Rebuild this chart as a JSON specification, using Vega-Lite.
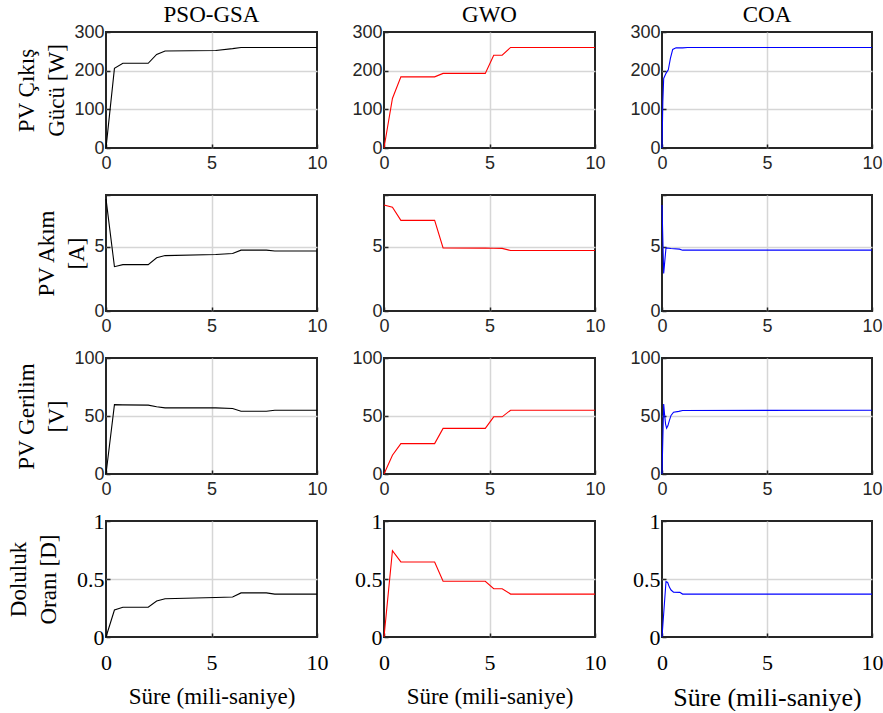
{
  "$schema": "https://vega.github.io/schema/vega-lite/v6.json",
  "background": "white",
  "padding": {"left": 6, "top": 3, "right": 0, "bottom": 0},
  "bounds": "flush",
  "spacing": {"row": 47, "column": 67},
  "columns": 3,
  "data": {"values": [
    {"a":"PSO","m":"P","t":0,"v":0},{"a":"PSO","m":"P","t":0.4,"v":206},{"a":"PSO","m":"P","t":0.8,"v":219},{"a":"PSO","m":"P","t":2.0,"v":219},{"a":"PSO","m":"P","t":2.4,"v":242},{"a":"PSO","m":"P","t":2.8,"v":251},{"a":"PSO","m":"P","t":5.2,"v":252},{"a":"PSO","m":"P","t":6.0,"v":257},{"a":"PSO","m":"P","t":6.4,"v":260},{"a":"PSO","m":"P","t":7.6,"v":260},{"a":"PSO","m":"P","t":8.0,"v":260},{"a":"PSO","m":"P","t":10,"v":260},
    {"a":"PSO","m":"I","t":0,"v":8.7},{"a":"PSO","m":"I","t":0.4,"v":3.44},{"a":"PSO","m":"I","t":0.8,"v":3.6},{"a":"PSO","m":"I","t":2.0,"v":3.6},{"a":"PSO","m":"I","t":2.4,"v":4.13},{"a":"PSO","m":"I","t":2.8,"v":4.3},{"a":"PSO","m":"I","t":5.2,"v":4.38},{"a":"PSO","m":"I","t":6.0,"v":4.46},{"a":"PSO","m":"I","t":6.4,"v":4.72},{"a":"PSO","m":"I","t":7.6,"v":4.72},{"a":"PSO","m":"I","t":8.0,"v":4.65},{"a":"PSO","m":"I","t":10,"v":4.65},
    {"a":"PSO","m":"V","t":0,"v":0},{"a":"PSO","m":"V","t":0.4,"v":59.8},{"a":"PSO","m":"V","t":0.8,"v":59.6},{"a":"PSO","m":"V","t":2.0,"v":59.4},{"a":"PSO","m":"V","t":2.4,"v":58},{"a":"PSO","m":"V","t":2.8,"v":57},{"a":"PSO","m":"V","t":5.2,"v":57},{"a":"PSO","m":"V","t":6.0,"v":56.5},{"a":"PSO","m":"V","t":6.4,"v":54.1},{"a":"PSO","m":"V","t":7.6,"v":54.1},{"a":"PSO","m":"V","t":8.0,"v":55},{"a":"PSO","m":"V","t":10,"v":55},
    {"a":"PSO","m":"D","t":0,"v":0},{"a":"PSO","m":"D","t":0.4,"v":0.233},{"a":"PSO","m":"D","t":0.8,"v":0.256},{"a":"PSO","m":"D","t":2.0,"v":0.256},{"a":"PSO","m":"D","t":2.4,"v":0.31},{"a":"PSO","m":"D","t":2.8,"v":0.33},{"a":"PSO","m":"D","t":5.2,"v":0.34},{"a":"PSO","m":"D","t":6.0,"v":0.345},{"a":"PSO","m":"D","t":6.4,"v":0.38},{"a":"PSO","m":"D","t":7.6,"v":0.38},{"a":"PSO","m":"D","t":8.0,"v":0.37},{"a":"PSO","m":"D","t":10,"v":0.37},
    {"a":"GWO","m":"P","t":0,"v":0},{"a":"GWO","m":"P","t":0.4,"v":128},{"a":"GWO","m":"P","t":0.8,"v":184},{"a":"GWO","m":"P","t":2.4,"v":184},{"a":"GWO","m":"P","t":2.8,"v":193},{"a":"GWO","m":"P","t":4.8,"v":193},{"a":"GWO","m":"P","t":5.2,"v":240},{"a":"GWO","m":"P","t":5.6,"v":240},{"a":"GWO","m":"P","t":6.0,"v":260},{"a":"GWO","m":"P","t":10,"v":260},
    {"a":"GWO","m":"I","t":0,"v":8.23},{"a":"GWO","m":"I","t":0.4,"v":8.05},{"a":"GWO","m":"I","t":0.8,"v":7.03},{"a":"GWO","m":"I","t":2.4,"v":7.03},{"a":"GWO","m":"I","t":2.8,"v":4.9},{"a":"GWO","m":"I","t":4.8,"v":4.88},{"a":"GWO","m":"I","t":5.2,"v":4.87},{"a":"GWO","m":"I","t":5.6,"v":4.86},{"a":"GWO","m":"I","t":6.0,"v":4.69},{"a":"GWO","m":"I","t":10,"v":4.69},
    {"a":"GWO","m":"V","t":0,"v":0},{"a":"GWO","m":"V","t":0.4,"v":16.2},{"a":"GWO","m":"V","t":0.8,"v":26.2},{"a":"GWO","m":"V","t":2.4,"v":26.2},{"a":"GWO","m":"V","t":2.8,"v":39.3},{"a":"GWO","m":"V","t":4.8,"v":39.3},{"a":"GWO","m":"V","t":5.2,"v":49.3},{"a":"GWO","m":"V","t":5.6,"v":49.3},{"a":"GWO","m":"V","t":6.0,"v":55},{"a":"GWO","m":"V","t":10,"v":55},
    {"a":"GWO","m":"D","t":0,"v":0},{"a":"GWO","m":"D","t":0.4,"v":0.744},{"a":"GWO","m":"D","t":0.8,"v":0.647},{"a":"GWO","m":"D","t":2.4,"v":0.647},{"a":"GWO","m":"D","t":2.8,"v":0.48},{"a":"GWO","m":"D","t":4.8,"v":0.48},{"a":"GWO","m":"D","t":5.2,"v":0.416},{"a":"GWO","m":"D","t":5.6,"v":0.416},{"a":"GWO","m":"D","t":6.0,"v":0.37},{"a":"GWO","m":"D","t":10,"v":0.37},
    {"a":"COA","m":"P","t":0,"v":0},{"a":"COA","m":"P","t":0.04,"v":120},{"a":"COA","m":"P","t":0.08,"v":180},{"a":"COA","m":"P","t":0.19,"v":193},{"a":"COA","m":"P","t":0.3,"v":202},{"a":"COA","m":"P","t":0.4,"v":232},{"a":"COA","m":"P","t":0.51,"v":255},{"a":"COA","m":"P","t":0.67,"v":259},{"a":"COA","m":"P","t":0.98,"v":259},{"a":"COA","m":"P","t":1.22,"v":260},{"a":"COA","m":"P","t":10,"v":260},
    {"a":"COA","m":"I","t":0,"v":8.23},{"a":"COA","m":"I","t":0.08,"v":2.92},{"a":"COA","m":"I","t":0.19,"v":4.9},{"a":"COA","m":"I","t":0.43,"v":4.85},{"a":"COA","m":"I","t":0.83,"v":4.8},{"a":"COA","m":"I","t":0.98,"v":4.72},{"a":"COA","m":"I","t":10,"v":4.72},
    {"a":"COA","m":"V","t":0,"v":0},{"a":"COA","m":"V","t":0.08,"v":60.4},{"a":"COA","m":"V","t":0.12,"v":52},{"a":"COA","m":"V","t":0.17,"v":43},{"a":"COA","m":"V","t":0.22,"v":39.5},{"a":"COA","m":"V","t":0.28,"v":41.5},{"a":"COA","m":"V","t":0.35,"v":46},{"a":"COA","m":"V","t":0.43,"v":50.5},{"a":"COA","m":"V","t":0.55,"v":53.3},{"a":"COA","m":"V","t":0.8,"v":54},{"a":"COA","m":"V","t":0.98,"v":54.8},{"a":"COA","m":"V","t":10,"v":55},
    {"a":"COA","m":"D","t":0,"v":0},{"a":"COA","m":"D","t":0.19,"v":0.477},{"a":"COA","m":"D","t":0.27,"v":0.47},{"a":"COA","m":"D","t":0.35,"v":0.43},{"a":"COA","m":"D","t":0.43,"v":0.405},{"a":"COA","m":"D","t":0.55,"v":0.387},{"a":"COA","m":"D","t":0.85,"v":0.385},{"a":"COA","m":"D","t":0.98,"v":0.37},{"a":"COA","m":"D","t":10,"v":0.37}
  ]},
  "concat": [
    {"width":211,"height":116,"title":"PSO-GSA","transform":[{"filter":"datum.a==='PSO' && datum.m==='P'"}],"mark":{"type":"line","color":"#000000","strokeWidth":1.1},
     "encoding":{"x":{"field":"t","type":"quantitative","scale":{"domain":[0,10]},"axis":{"values":[0,5,10],"title":null}},
                 "y":{"field":"v","type":"quantitative","scale":{"domain":[0,300]},"axis":{"values":[0,100,200,300],"title":["PV Çıkış","Gücü [W]"],"titlePadding":5}}}},
    {"width":211,"height":116,"title":"GWO","transform":[{"filter":"datum.a==='GWO' && datum.m==='P'"}],"mark":{"type":"line","color":"#ff0000","strokeWidth":1.1},
     "encoding":{"x":{"field":"t","type":"quantitative","scale":{"domain":[0,10]},"axis":{"values":[0,5,10],"title":null}},
                 "y":{"field":"v","type":"quantitative","scale":{"domain":[0,300]},"axis":{"values":[0,100,200,300],"title":null}}}},
    {"width":210,"height":116,"title":"COA","transform":[{"filter":"datum.a==='COA' && datum.m==='P'"}],"mark":{"type":"line","color":"#0000ff","strokeWidth":1.1},
     "encoding":{"x":{"field":"t","type":"quantitative","scale":{"domain":[0,10]},"axis":{"values":[0,5,10],"title":null}},
                 "y":{"field":"v","type":"quantitative","scale":{"domain":[0,300]},"axis":{"values":[0,100,200,300],"title":null}}}},

    {"width":211,"height":116,"transform":[{"filter":"datum.a==='PSO' && datum.m==='I'"}],"mark":{"type":"line","color":"#000000","strokeWidth":1.1},
     "encoding":{"x":{"field":"t","type":"quantitative","scale":{"domain":[0,10]},"axis":{"values":[0,5,10],"title":null}},
                 "y":{"field":"v","type":"quantitative","scale":{"domain":[0,9]},"axis":{"values":[0,5,9],"labelExpr":"datum.value===9?'':datum.label","title":["PV Akım","[A]"],"titlePadding":5}}}},
    {"width":211,"height":116,"transform":[{"filter":"datum.a==='GWO' && datum.m==='I'"}],"mark":{"type":"line","color":"#ff0000","strokeWidth":1.1},
     "encoding":{"x":{"field":"t","type":"quantitative","scale":{"domain":[0,10]},"axis":{"values":[0,5,10],"title":null}},
                 "y":{"field":"v","type":"quantitative","scale":{"domain":[0,9]},"axis":{"values":[0,5,9],"labelExpr":"datum.value===9?'':datum.label","title":null}}}},
    {"width":210,"height":116,"transform":[{"filter":"datum.a==='COA' && datum.m==='I'"}],"mark":{"type":"line","color":"#0000ff","strokeWidth":1.1},
     "encoding":{"x":{"field":"t","type":"quantitative","scale":{"domain":[0,10]},"axis":{"values":[0,5,10],"title":null}},
                 "y":{"field":"v","type":"quantitative","scale":{"domain":[0,9]},"axis":{"values":[0,5,9],"labelExpr":"datum.value===9?'':datum.label","title":null}}}},

    {"width":211,"height":116,"transform":[{"filter":"datum.a==='PSO' && datum.m==='V'"}],"mark":{"type":"line","color":"#000000","strokeWidth":1.1},
     "encoding":{"x":{"field":"t","type":"quantitative","scale":{"domain":[0,10]},"axis":{"values":[0,5,10],"title":null}},
                 "y":{"field":"v","type":"quantitative","scale":{"domain":[0,100]},"axis":{"values":[0,50,100],"title":["PV Gerilim","[V]"],"titlePadding":5}}}},
    {"width":211,"height":116,"transform":[{"filter":"datum.a==='GWO' && datum.m==='V'"}],"mark":{"type":"line","color":"#ff0000","strokeWidth":1.1},
     "encoding":{"x":{"field":"t","type":"quantitative","scale":{"domain":[0,10]},"axis":{"values":[0,5,10],"title":null}},
                 "y":{"field":"v","type":"quantitative","scale":{"domain":[0,100]},"axis":{"values":[0,50,100],"title":null}}}},
    {"width":210,"height":116,"transform":[{"filter":"datum.a==='COA' && datum.m==='V'"}],"mark":{"type":"line","color":"#0000ff","strokeWidth":1.1},
     "encoding":{"x":{"field":"t","type":"quantitative","scale":{"domain":[0,10]},"axis":{"values":[0,5,10],"title":null}},
                 "y":{"field":"v","type":"quantitative","scale":{"domain":[0,100]},"axis":{"values":[0,50,100],"title":null}}}},

    {"width":211,"height":116,"transform":[{"filter":"datum.a==='PSO' && datum.m==='D'"}],"mark":{"type":"line","color":"#000000","strokeWidth":1.1},
     "encoding":{"x":{"field":"t","type":"quantitative","scale":{"domain":[0,10]},"axis":{"values":[0,5,10],"title":"Süre (mili-saniye)","labelFont":"Liberation Serif","labelFontSize":22,"labelColor":"#000000","labelPadding":19,"titlePadding":12}},
                 "y":{"field":"v","type":"quantitative","scale":{"domain":[0,1]},"axis":{"values":[0,0.5,1],"format":"~g","title":["Doluluk","Oranı [D]"],"titlePadding":16,"labelFont":"Liberation Serif","labelFontSize":22,"labelColor":"#000000"}}}},
    {"width":211,"height":116,"transform":[{"filter":"datum.a==='GWO' && datum.m==='D'"}],"mark":{"type":"line","color":"#ff0000","strokeWidth":1.1},
     "encoding":{"x":{"field":"t","type":"quantitative","scale":{"domain":[0,10]},"axis":{"values":[0,5,10],"title":"Süre (mili-saniye)","labelFont":"Liberation Serif","labelFontSize":22,"labelColor":"#000000","labelPadding":19,"titlePadding":12}},
                 "y":{"field":"v","type":"quantitative","scale":{"domain":[0,1]},"axis":{"values":[0,0.5,1],"format":"~g","title":null,"labelFont":"Liberation Serif","labelFontSize":22,"labelColor":"#000000"}}}},
    {"width":210,"height":116,"transform":[{"filter":"datum.a==='COA' && datum.m==='D'"}],"mark":{"type":"line","color":"#0000ff","strokeWidth":1.1},
     "encoding":{"x":{"field":"t","type":"quantitative","scale":{"domain":[0,10]},"axis":{"values":[0,5,10],"title":"Süre (mili-saniye)","titleFontSize":26,"labelFont":"Liberation Serif","labelFontSize":22,"labelColor":"#000000","labelPadding":19,"titlePadding":11}},
                 "y":{"field":"v","type":"quantitative","scale":{"domain":[0,1]},"axis":{"values":[0,0.5,1],"format":"~g","title":null,"labelFont":"Liberation Serif","labelFontSize":22,"labelColor":"#000000"}}}}
  ],
  "config": {
    "view": {"stroke": "#262626", "strokeWidth": 2},
    "axis": {
      "domain": false,
      "ticks": true,
      "tickSize": -4,
      "tickColor": "#262626",
      "tickWidth": 1.5,
      "grid": true,
      "gridColor": "#d6d6d6",
      "gridWidth": 1.5,
      "gridOpacity": {"condition": {"test": "datum.index > 0 && datum.index < 1", "value": 1}, "value": 0},
      "labelFlush": false,
      "labelFont": "Liberation Sans",
      "labelFontSize": 18,
      "labelColor": "#262626",
      "labelPadding": 6,
      "titleFont": "Liberation Serif",
      "titleFontSize": 23,
      "titleFontWeight": "normal",
      "titleColor": "#000000",
      "titlePadding": 1,
      "titleLineHeight": 30
    },
    "axisX": {"labelPadding": 10},
    "title": {"font": "Liberation Serif", "fontSize": 23, "fontWeight": "normal", "color": "#000000", "offset": -4}
  }
}
